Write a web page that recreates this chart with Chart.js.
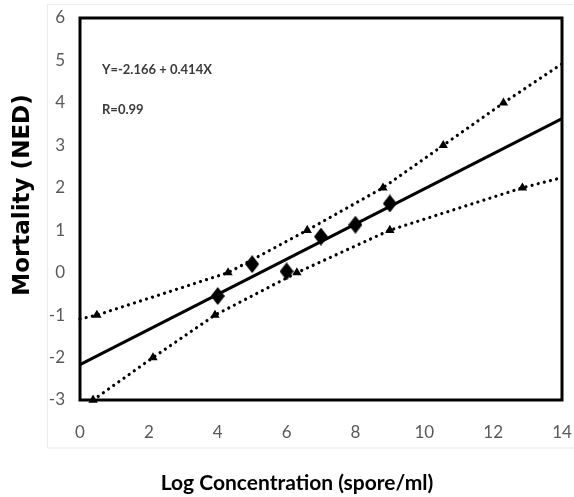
<!DOCTYPE html>
<html>
<head>
<meta charset="utf-8">
<script src="https://cdn.jsdelivr.net/npm/chart.js@4.4.1/dist/chart.umd.min.js"></script>
<style>
  html, body { margin: 0; padding: 0; background: #fff; overflow: hidden; }
  canvas { display: block; }
</style>
</head>
<body>
<canvas id="probitChart" width="574" height="497"></canvas>
<script>
// observed mortality (NED) at each log concentration
const obsX = [4, 5, 6, 7, 8, 9];
const obsY = [-0.55, 0.2, 0.03, 0.85, 1.13, 1.63];

// fitted line Y = -2.166 + 0.414X, read at the axis ends
const fitX = [0, 14];
const fitY = [-2.166, 3.63];

// upper and lower confidence limits (dotted)
const upperX = [0, 0.49, 4.3, 6.6, 8.8, 10.55, 12.3, 14];
const upperY = [-1.09, -1, 0, 1, 2, 3, 4, 4.92];
const lowerX = [0.38, 2.12, 3.92, 6.3, 9.0, 12.85, 14];
const lowerY = [-3, -2, -1, 0, 1, 2, 2.24];

const xTicks = [0, 2, 4, 6, 8, 10, 12, 14];
const yTicks = [-3, -2, -1, 0, 1, 2, 3, 4, 5, 6];

const equationText = 'Y=-2.166 + 0.414X';
const rText = 'R=0.99';

function toPoints(xs, ys) {
    return xs.map((x, i) => ({ x: x, y: ys[i] }));
}

// markers only on inner points of the limit lines
function limitRadius(xs, first) {
    return xs.map((x, i) => (i === xs.length - 1 || (i === 0 && !first)) ? 0 : 2.2);
}

// tall diamond like the Excel marker
function makeDiamond(w, h) {
    const c = document.createElement('canvas');
    c.width = w;
    c.height = h;
    const g = c.getContext('2d');
    g.fillStyle = '#000';
    g.beginPath();
    g.moveTo(w / 2, 0);
    g.lineTo(w, h / 2);
    g.lineTo(w / 2, h);
    g.lineTo(0, h / 2);
    g.closePath();
    g.fill();
    return c;
}

const tickFont = { family: 'Lato, sans-serif', size: 17 };

const framePlugin = {
    id: 'frame',
    beforeDraw(chart) {
        const ctx = chart.ctx;
        ctx.save();
        ctx.strokeStyle = '#ececec';
        ctx.lineWidth = 1;
        ctx.strokeRect(47.5, 4.5, 540, 443.5);
        ctx.restore();
    },
    beforeDatasetsDraw(chart) {
        const a = chart.chartArea;
        const ctx = chart.ctx;
        ctx.save();
        ctx.strokeStyle = '#000';
        ctx.lineWidth = 3;
        ctx.strokeRect(a.left, a.top, a.right - a.left, a.bottom - a.top);
        ctx.restore();
    },
    afterDraw(chart) {
        const ctx = chart.ctx;
        ctx.save();
        ctx.fillStyle = '#000';
        ctx.textAlign = 'center';
        ctx.textBaseline = 'middle';
        ctx.font = 'bold 21px Lato, sans-serif';
        ctx.fillText('Log Concentration (spore/ml)', 297, 483);

        ctx.translate(23, 195);
        ctx.rotate(-Math.PI / 2);
        ctx.font = 'bold 23px "DejaVu Sans", sans-serif';
        ctx.fillText('Mortality (NED)', 0, 0);
        ctx.restore();

        ctx.save();
        ctx.fillStyle = '#3a3a3a';
        ctx.textAlign = 'left';
        ctx.textBaseline = 'middle';
        ctx.font = 'bold 13px Lato, sans-serif';
        ctx.fillText(equationText, 102, 70);
        ctx.fillText(rText, 102, 110);
        ctx.restore();
    }
};

const ctx = document.getElementById('probitChart').getContext('2d');
new Chart(ctx, {
    type: 'scatter',
    data: {
        datasets: [
            {
                label: 'Upper limit',
                data: toPoints(upperX, upperY),
                showLine: true,
                borderColor: '#000',
                backgroundColor: '#000',
                borderWidth: 3.2,
                borderDash: [0.01, 6.3],
                borderCapStyle: 'round',
                pointStyle: 'triangle',
                pointRadius: limitRadius(upperX, false),
                clip: false
            },
            {
                label: 'Lower limit',
                data: toPoints(lowerX, lowerY),
                showLine: true,
                borderColor: '#000',
                backgroundColor: '#000',
                borderWidth: 3.2,
                borderDash: [0.01, 6.3],
                borderCapStyle: 'round',
                pointStyle: 'triangle',
                pointRadius: limitRadius(lowerX, true),
                clip: false
            },
            {
                label: 'Fit',
                data: toPoints(fitX, fitY),
                showLine: true,
                borderColor: '#000',
                borderWidth: 3,
                pointRadius: 0,
                clip: false
            },
            {
                label: 'Observed',
                data: toPoints(obsX, obsY),
                showLine: false,
                pointStyle: makeDiamond(14, 18),
                pointRadius: 8,
                backgroundColor: '#000',
                borderColor: '#000',
                clip: false
            }
        ]
    },
    options: {
        responsive: false,
        animation: false,
        layout: { padding: { left: 0, right: 12, top: 18, bottom: 0 } },
        plugins: {
            legend: { display: false },
            tooltip: { enabled: false }
        },
        scales: {
            x: {
                type: 'linear',
                min: 0,
                max: 14,
                afterBuildTicks: (scale) => { scale.ticks = xTicks.map(v => ({ value: v })); },
                ticks: { font: tickFont, color: '#595959', padding: 22, maxRotation: 0 },
                grid: { display: false, drawTicks: false },
                border: { display: false },
                afterFit: (scale) => {
                    scale.height = 97;
                    scale.paddingLeft = 0;
                    scale.paddingRight = 0;
                }
            },
            y: {
                type: 'linear',
                min: -3,
                max: 6,
                afterBuildTicks: (scale) => { scale.ticks = yTicks.map(v => ({ value: v })); },
                ticks: { font: tickFont, color: '#595959', padding: 15 },
                grid: { display: false, drawTicks: false },
                border: { display: false },
                afterFit: (scale) => {
                    scale.width = 80;
                    scale.paddingTop = 0;
                    scale.paddingBottom = 0;
                }
            }
        }
    },
    plugins: [framePlugin]
});
</script>
</body>
</html>
